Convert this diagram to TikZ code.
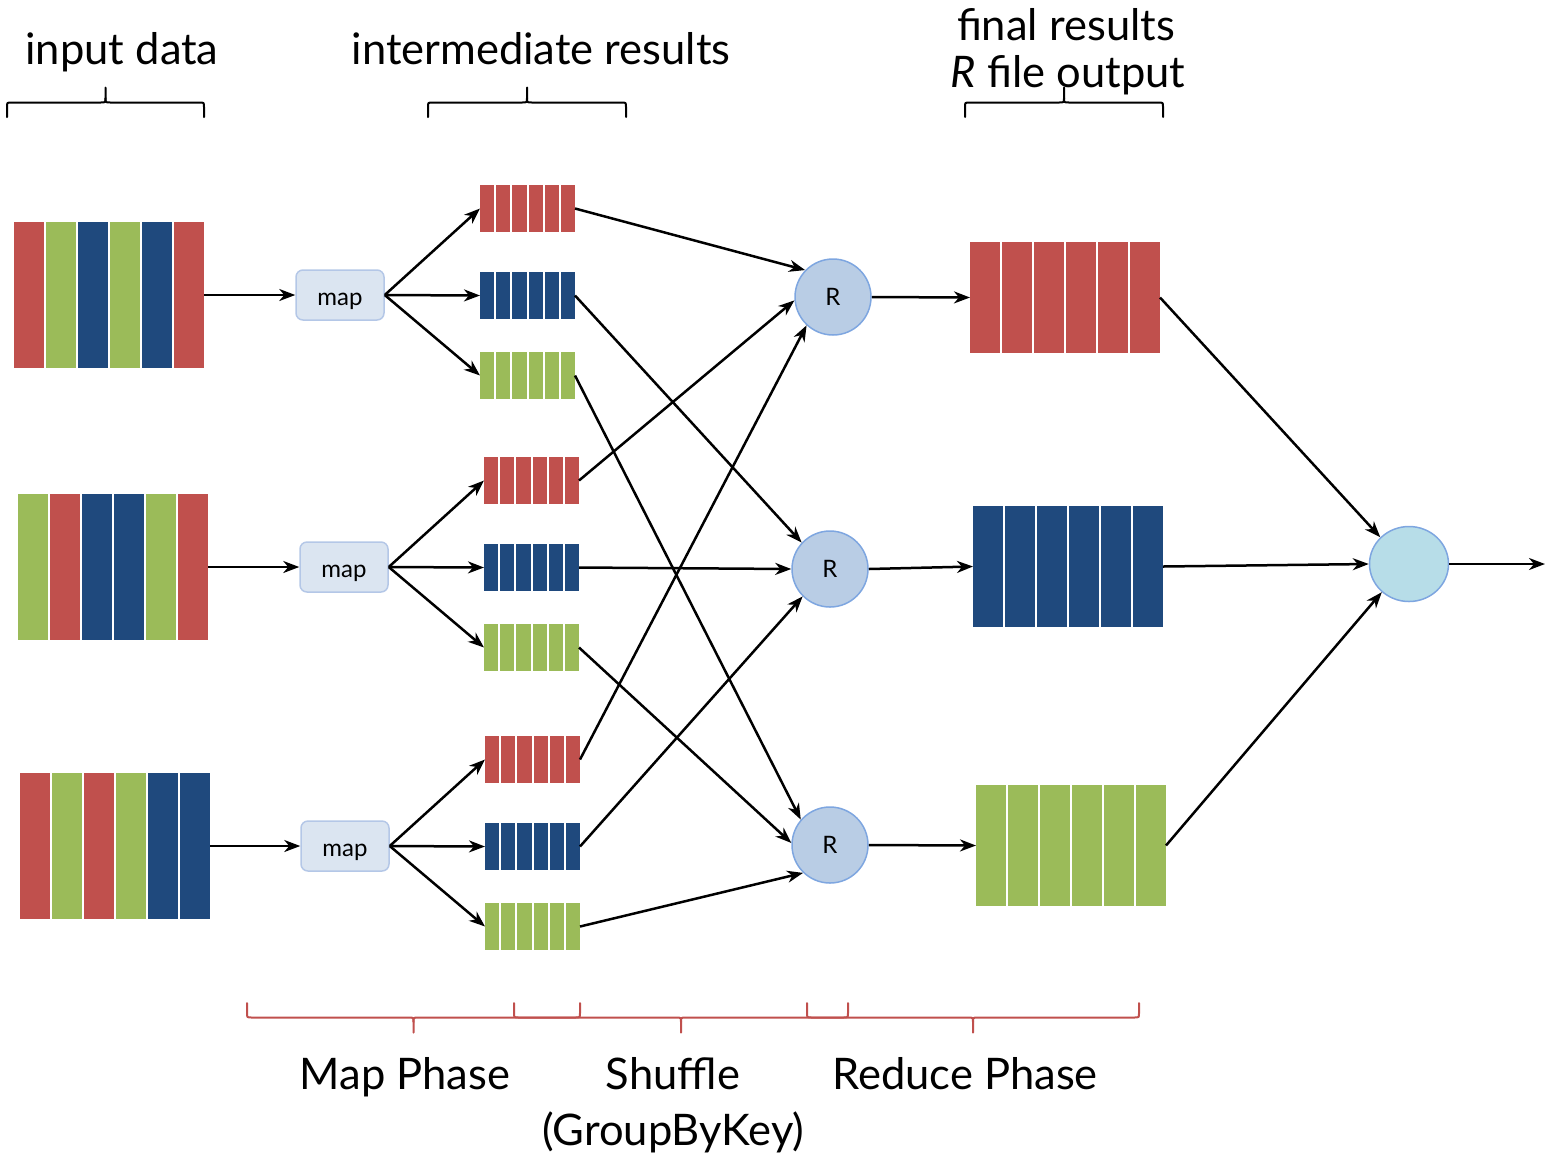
\documentclass[tikz,border=0pt]{standalone}
\usepackage{fontspec}
\setmainfont{Lato}
\usetikzlibrary{arrows.meta,calc,shapes.geometric}
\definecolor{cred}{HTML}{C0504D}
\definecolor{cgreen}{HTML}{9BBB59}
\definecolor{cblue}{HTML}{1F497D}
\definecolor{mapfill}{HTML}{DBE5F1}
\definecolor{mapdraw}{HTML}{B4C7E7}
\definecolor{rfill}{HTML}{B9CDE5}
\definecolor{rdraw}{HTML}{7EA6E0}
\definecolor{ffill}{HTML}{B7DDE8}
% name, x0, y0, w, h, gap, colours
\newcommand\barblock[7]{%
  \node[inner sep=0pt,outer sep=0pt,minimum width=#4pt,minimum height=#5pt] (#1) at ({#2+#4/2},{#3+#5/2}) {};
  \pgfmathsetmacro\bbw{(#4-5*#6)/6}%
  \foreach \c [count=\i from 0] in {#7} {\fill[\c] ({#2+\i*(\bbw+#6)},#3) rectangle ++(\bbw,#5);}
}
% brace: style, x0, x1, yend, s (direction: -1 up, +1 down)
\newcommand\mybrace[5]{%
  \pgfmathsetmacro\bxm{(#2+#3)/2}%
  \draw[#1] (#2,#4) -- (#2,{#4+#5*10}) .. controls (#2,{#4+#5*14.5}) .. ({#2+5},{#4+#5*14.5})
    -- ({\bxm-5},{#4+#5*14.5}) .. controls (\bxm,{#4+#5*14.5}) .. (\bxm,{#4+#5*19}) -- (\bxm,{#4+#5*29.5});
  \draw[#1] (#3,#4) -- (#3,{#4+#5*10}) .. controls (#3,{#4+#5*14.5}) .. ({#3-5},{#4+#5*14.5})
    -- ({\bxm+5},{#4+#5*14.5}) .. controls (\bxm,{#4+#5*14.5}) .. (\bxm,{#4+#5*19});
}
\begin{document}
\begin{tikzpicture}[x=1pt,y=-1pt,
  arr/.style={-{Stealth[length=16pt,width=12pt,inset=5pt]},line width=2.5pt},
  mapbox/.style={draw=mapdraw,fill=mapfill,line width=1.5pt,rounded corners=7pt,minimum width=88pt,minimum height=50pt,inner sep=0pt,text height=20pt,text depth=0pt,font=\fontsize{24}{26}\selectfont},
  rnode/.style={circle,draw=rdraw,fill=rfill,line width=1.5pt,minimum size=76pt,inner sep=0pt,font=\fontsize{24}{26}\selectfont},
  fnode/.style={ellipse,draw=rdraw,fill=ffill,line width=1.5pt,minimum width=79pt,minimum height=75pt,inner sep=0pt},
  lbl/.style={anchor=base,inner sep=0pt,font=\fontsize{43.5}{46}\selectfont},
  topbrace/.style={draw=black,line width=2pt,line cap=round},
  botbrace/.style={draw=cred,line width=2pt,line cap=round}
]
\useasboundingbox (0,0) rectangle (1546,1163);

% input blocks
\barblock{in1}{14}{222}{190}{146}{2}{cred,cgreen,cblue,cgreen,cblue,cred}
\barblock{in2}{18}{494}{190}{146}{2}{cgreen,cred,cblue,cblue,cgreen,cred}
\barblock{in3}{20}{773}{190}{146}{2}{cred,cgreen,cred,cgreen,cblue,cblue}

% intermediate blocks
\barblock{i1r}{480}{185}{95}{47}{2}{cred,cred,cred,cred,cred,cred}
\barblock{i1b}{480}{272}{95}{47}{2}{cblue,cblue,cblue,cblue,cblue,cblue}
\barblock{i1g}{480}{352}{95}{47}{2}{cgreen,cgreen,cgreen,cgreen,cgreen,cgreen}
\barblock{i2r}{484}{457}{95}{47}{2}{cred,cred,cred,cred,cred,cred}
\barblock{i2b}{484}{544}{95}{47}{2}{cblue,cblue,cblue,cblue,cblue,cblue}
\barblock{i2g}{484}{624}{95}{47}{2}{cgreen,cgreen,cgreen,cgreen,cgreen,cgreen}
\barblock{i3r}{485}{736}{95}{47}{2}{cred,cred,cred,cred,cred,cred}
\barblock{i3b}{485}{823}{95}{47}{2}{cblue,cblue,cblue,cblue,cblue,cblue}
\barblock{i3g}{485}{903}{95}{47}{2}{cgreen,cgreen,cgreen,cgreen,cgreen,cgreen}

% output blocks
\barblock{o1}{970}{242}{190}{111}{2}{cred,cred,cred,cred,cred,cred}
\barblock{o2}{973}{506}{190}{121}{2}{cblue,cblue,cblue,cblue,cblue,cblue}
\barblock{o3}{976}{785}{190}{121}{2}{cgreen,cgreen,cgreen,cgreen,cgreen,cgreen}

% map nodes
\node[mapbox] (m1) at (340,295) {map};
\node[mapbox] (m2) at (344,567) {map};
\node[mapbox] (m3) at (345,846) {map};

% reducers
\node[rnode] (R1) at (833,297) {R};
\node[rnode] (R2) at (830,569) {R};
\node[rnode] (R3) at (830,845) {R};

% final
\node[fnode] (F) at (1409,564) {};
\coordinate (out) at (1545,564);

% arrows input -> map
\draw[arr] (in1.east) -- (m1.west);
\draw[arr] (in2.east) -- (m2.west);
\draw[arr] (in3.east) -- (m3.west);

% map -> intermediate
\foreach \k in {1,2,3} {
  \draw[arr] (m\k.east) -- (i\k r.west);
  \draw[arr] (m\k.east) -- (i\k b.west);
  \draw[arr] (m\k.east) -- (i\k g.west);
}

% shuffle
\draw[arr] (i1r.east) -- (R1.136);
\draw[arr] (i2r.east) -- (R1.185);
\draw[arr] (i3r.east) -- (R1.227);
\draw[arr] (i1b.east) -- (R2.137);
\draw[arr] (i2b.east) -- (R2.180);
\draw[arr] (i3b.east) -- (R2.225);
\draw[arr] (i1g.east) -- (R3.139);
\draw[arr] (i2g.east) -- (R3.177);
\draw[arr] (i3g.east) -- (R3.226);

% reduce -> outputs
\draw[arr] (R1.east) -- (o1.west);
\draw[arr] (R2.east) -- (o2.west);
\draw[arr] (R3.east) -- (o3.west);

% outputs -> final
\draw[arr] (o1.east) -- (F.137);
\draw[arr] (o2.east) -- (F.west);
\draw[arr] (o3.east) -- (F.226);
\draw[arr] (F.east) -- (out);

% top braces
\mybrace{topbrace}{7}{204}{117}{-1}
\mybrace{topbrace}{428}{626}{117}{-1}
\mybrace{topbrace}{965}{1163}{117}{-1}

% bottom braces
\mybrace{botbrace}{247}{580}{1003}{1}
\mybrace{botbrace}{514}{848}{1003}{1}
\mybrace{botbrace}{807}{1139}{1003}{1}

% labels
\node[lbl] (tin) at (122,64) {input data};
\node[lbl] (tint) at (541,64) {intermediate results};
\node[lbl] (tfin1) at (1066,40) {final results};
\node[lbl] (tfin2) at (1068,87) {\textit{R} file output};
\node[lbl] (tmap) at (405,1089) {Map Phase};
\node[lbl] (tsh1) at (673,1089) {Shuffle};
\node[lbl] (tsh2) at (673,1145) {(GroupByKey)};
\node[lbl] (tred) at (965,1089) {Reduce Phase};
\end{tikzpicture}
\end{document}
